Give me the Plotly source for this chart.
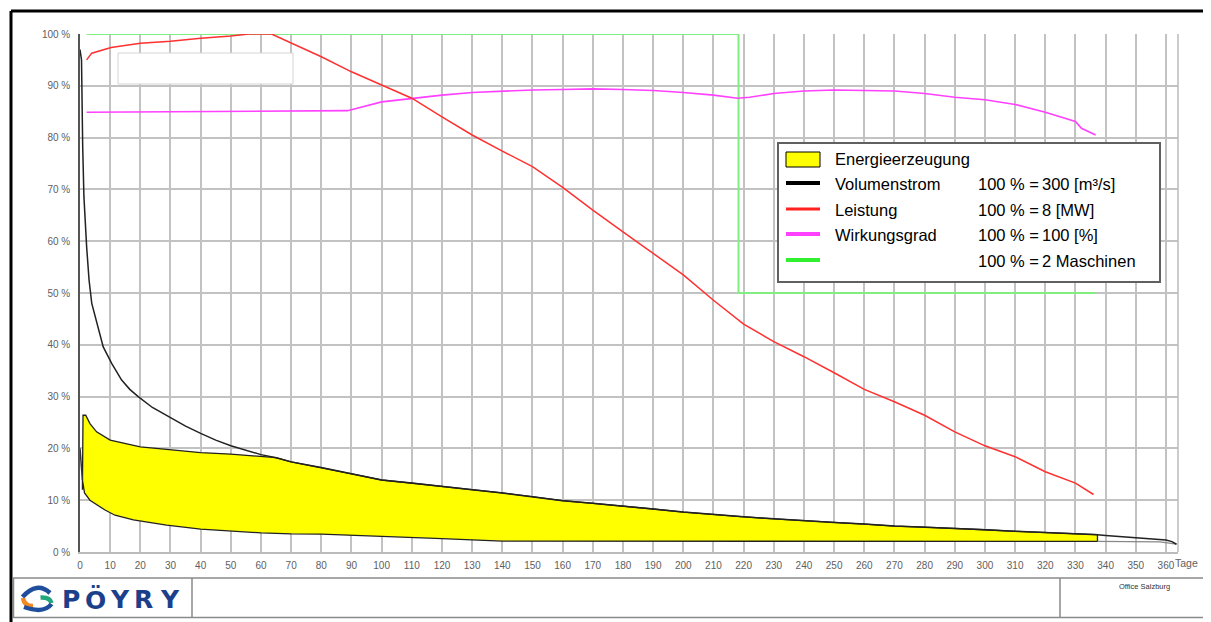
import plotly.graph_objects as go

# ---------------- data ----------------
# Volumenstrom (black), % of 300 m3/s
q_days = [0, 0.5, 0.9, 1.3, 2.2, 3, 3.9, 6.1, 7.7, 10.5, 13.8, 16.5, 19.3, 24, 30, 35, 40, 45, 50, 55, 60, 65, 70, 80, 90,
          100, 110, 120, 130, 140, 150, 160, 170, 180, 190, 200, 210, 220, 230, 240, 250, 260, 270, 280, 290,
          300, 310, 320, 330, 337.3, 340, 350, 355, 360, 362, 363.5]
q_vals = [97, 95, 78.2, 68.6, 58.9, 52.5, 48, 42.9, 39.6, 36.4, 33.2, 31.4, 30, 27.9, 26.0, 24.3, 22.9, 21.6, 20.5, 19.6,
          18.8, 18.2, 17.4, 16.3, 15.1,
          13.9, 13.3, 12.6, 12.0, 11.4, 10.7, 9.9, 9.4, 8.9, 8.3, 7.7, 7.2, 6.8, 6.4, 6.0, 5.7, 5.4, 5.0, 4.8, 4.6,
          4.3, 4.0, 3.8, 3.6, 3.35, 3.2, 2.8, 2.6, 2.3, 2.0, 1.5]

# Energieerzeugung: upper boundary of the yellow area
e_up_days = [0.8, 1.0, 1.9, 3.3, 5.5, 10, 20, 30, 40, 50, 60, 65, 70, 80, 90, 100, 110, 120, 130, 140, 150, 160,
             170, 180, 190, 200, 210, 220, 230, 240, 250, 260, 270, 280, 290, 300, 310, 320, 330, 337.3]
e_up_vals = [12.0, 26.4, 26.4, 24.8, 23.2, 21.6, 20.3, 19.7, 19.2, 18.9, 18.5, 18.2, 17.4, 16.3, 15.1, 13.9, 13.3, 12.6,
             12.0, 11.4, 10.7, 9.9, 9.4, 8.9, 8.3, 7.7, 7.2, 6.8, 6.4, 6.0, 5.7, 5.4, 5.0, 4.8, 4.6, 4.3, 4.0, 3.8, 3.6, 3.35]

# lower boundary of the yellow area
e_lo_days = [0, 0.4, 0.8, 1.5, 3.3, 5.5, 8.3, 11.6, 17.7, 28.7, 40, 60, 70, 80, 100, 120, 140, 150, 200, 250, 300,
             337.3, 350, 358, 363.5]
e_lo_vals = [20.0, 17.0, 13.9, 11.4, 10.0, 9.1, 8.1, 7.1, 6.2, 5.2, 4.4, 3.7, 3.5, 3.45, 3.0, 2.6, 2.1, 2.0, 2.0, 2.0, 2.05,
             2.05, 2.0, 1.95, 1.5]

# Leistung (red), % of 8 MW
p_days = [2.2, 3.9, 10.3, 20, 30, 40, 50, 56, 63.5, 70, 80, 90, 100, 110, 120, 130, 140, 150, 160, 170, 180, 190,
          200, 210, 220, 230, 240, 250, 260, 270, 280, 290, 300, 310, 320, 330, 336]
p_vals = [95.0, 96.3, 97.4, 98.2, 98.6, 99.2, 99.6, 100, 100, 98.3, 95.6, 92.7, 90.2, 87.6, 84.0, 80.5, 77.4, 74.4,
          70.4, 66.0, 61.8, 57.7, 53.5, 48.6, 44.0, 40.6, 37.7, 34.6, 31.4, 29.0, 26.4, 23.2, 20.5, 18.4, 15.5, 13.3, 11.1]

# Wirkungsgrad (magenta), %
w_days = [2.2, 60, 88.7, 100, 110, 120, 130, 140, 150, 160, 170, 180, 190, 200, 210, 218, 222, 230, 240, 250, 260,
          270, 280, 290, 300, 310, 320, 330, 332, 336.7]
w_vals = [84.9, 85.1, 85.2, 86.9, 87.6, 88.2, 88.7, 89.0, 89.2, 89.3, 89.4, 89.3, 89.1, 88.7, 88.2, 87.6, 87.8, 88.5,
          89.0, 89.2, 89.1, 89.0, 88.5, 87.8, 87.3, 86.4, 84.9, 83.1, 81.8, 80.5]

# Maschinen (green), % of 2 machines
g_days = [2.2, 218.3, 218.3, 336.5]
g_vals = [100, 100, 50, 50]

x_ticks = list(range(0, 361, 10))
y_ticks = list(range(0, 101, 10))

legend_names = ["Energieerzeugung", "Volumenstrom", "Leistung", "Wirkungsgrad", ""]
legend_refs = ["", "100 % =", "100 % =", "100 % =", "100 % ="]
legend_vals = ["", "300 [m³/s]", "8 [MW]", "100 [%]", "2 Maschinen"]

# ---------------- layout geometry (screen pixels; page body has an 8px margin) ----------------
OFF = 8
SW, SH = 1211, 622
L, R, T, B = 80, 1178, 34, 552
FW, FH = SW - OFF, SH - OFF


def px(x):
    return (x - L) / (R - L)


def py(y):
    return (B - y) / (B - T)


FONT = "Liberation Sans"

fig = go.Figure()

# yellow energy area (polygon built from the boundary lists)
lo_part = [(d, v) for d, v in zip(e_lo_days, e_lo_vals) if 0.8 <= d <= 337.3]
fill_x = e_up_days + [d for d, v in reversed(lo_part)]
fill_y = e_up_vals + [v for d, v in reversed(lo_part)]
fig.add_trace(go.Scatter(x=fill_x, y=fill_y, mode="lines", fill="toself", fillcolor="#ffff00",
                         line=dict(color="#222222", width=1.3), hoverinfo="skip", showlegend=False))

# lower line head and tail
head = [(d, v) for d, v in zip(e_lo_days, e_lo_vals) if d <= 0.8]
tail = [(d, v) for d, v in zip(e_lo_days, e_lo_vals) if d >= 337.3]
fig.add_trace(go.Scatter(x=[d for d, v in head], y=[v for d, v in head], mode="lines",
                         line=dict(color="#333333", width=1.5), showlegend=False))
fig.add_trace(go.Scatter(x=[d for d, v in tail], y=[v for d, v in tail], mode="lines",
                         line=dict(color="#888888", width=1.3), showlegend=False))

# Volumenstrom
fig.add_trace(go.Scatter(x=q_days, y=q_vals, mode="lines", name="Volumenstrom",
                         line=dict(color="#222222", width=1.5), showlegend=False))
# Maschinen
fig.add_trace(go.Scatter(x=g_days, y=g_vals, mode="lines", name="Maschinen",
                         line=dict(color="#80ee80", width=2), showlegend=False))
# Wirkungsgrad
fig.add_trace(go.Scatter(x=w_days, y=w_vals, mode="lines", name="Wirkungsgrad",
                         line=dict(color="#ff40ff", width=1.6), showlegend=False))
# Leistung
fig.add_trace(go.Scatter(x=p_days, y=p_vals, mode="lines", name="Leistung",
                         line=dict(color="#ff3030", width=1.5), showlegend=False))

shapes = []
annotations = []

# plot area right border
shapes.append(dict(type="line", xref="paper", yref="paper", x0=1, x1=1, y0=0, y1=1,
                   line=dict(color="#bbbbbb", width=1.5)))

# white blank box top-left
shapes.append(dict(type="rect", xref="paper", yref="paper", x0=px(118), x1=px(293), y0=py(84), y1=py(53),
                   fillcolor="white", line=dict(color="#d4d4d4", width=1), layer="above"))

# legend box
shapes.append(dict(type="rect", xref="paper", yref="paper", x0=px(778), x1=px(1160), y0=py(282), y1=py(143),
                   fillcolor="white", line=dict(color="#606060", width=2), layer="above"))
row_y = [159, 184, 210, 235, 261]
shapes.append(dict(type="rect", xref="paper", yref="paper", x0=px(786), x1=px(820), y0=py(167), y1=py(152),
                   fillcolor="#ffff00", line=dict(color="black", width=1), layer="above"))
sym = [(1, "#000000", 4), (2, "#ff2020", 3), (3, "#ff40ff", 4), (4, "#30f030", 4)]
for i, c, wdt in sym:
    yy = row_y[i] - 1
    shapes.append(dict(type="line", xref="paper", yref="paper", x0=px(786), x1=px(820), y0=py(yy), y1=py(yy),
                       line=dict(color=c, width=wdt), layer="above"))
for i in range(5):
    if legend_names[i]:
        annotations.append(dict(xref="paper", yref="paper", x=px(833), y=py(row_y[i]), text=legend_names[i],
                                showarrow=False, xanchor="left", yanchor="middle",
                                font=dict(family=FONT, size=16.5, color="black")))
    if legend_refs[i]:
        annotations.append(dict(xref="paper", yref="paper", x=px(976), y=py(row_y[i]), text=legend_refs[i],
                                showarrow=False, xanchor="left", yanchor="middle",
                                font=dict(family=FONT, size=16.5, color="black")))
        annotations.append(dict(xref="paper", yref="paper", x=px(1040), y=py(row_y[i]), text=legend_vals[i],
                                showarrow=False, xanchor="left", yanchor="middle",
                                font=dict(family=FONT, size=16.5, color="black")))

# "Tage" axis label
annotations.append(dict(xref="paper", yref="paper", x=px(1173), y=py(563), text="Tage", showarrow=False,
                        xanchor="left", yanchor="middle", font=dict(family=FONT, size=10.5, color="#606060")))

# outer frame (black, top and left)
shapes.append(dict(type="line", xref="paper", yref="paper", x0=px(11), x1=px(1211), y0=py(11), y1=py(11),
                   line=dict(color="black", width=3)))
shapes.append(dict(type="line", xref="paper", yref="paper", x0=px(11), x1=px(11), y0=py(11), y1=py(622),
                   line=dict(color="black", width=3)))

# footer box
fc = dict(color="#8a8a8a", width=1.5)
shapes.append(dict(type="line", xref="paper", yref="paper", x0=px(13), x1=px(1211), y0=py(578), y1=py(578), line=fc))
shapes.append(dict(type="line", xref="paper", yref="paper", x0=px(13), x1=px(1211), y0=py(617.5), y1=py(617.5), line=fc))
shapes.append(dict(type="line", xref="paper", yref="paper", x0=px(13.5), x1=px(13.5), y0=py(578), y1=py(617.5), line=fc))
shapes.append(dict(type="line", xref="paper", yref="paper", x0=px(192), x1=px(192), y0=py(578), y1=py(617.5), line=fc))
shapes.append(dict(type="line", xref="paper", yref="paper", x0=px(1060), x1=px(1060), y0=py(578), y1=py(617.5), line=fc))
annotations.append(dict(xref="paper", yref="paper", x=px(1144), y=py(586), text="Office Salzburg", showarrow=False,
                        xanchor="center", yanchor="middle", font=dict(family=FONT, size=7.5, color="#333333")))


# logo icon
def qpath(p0, c, p1):
    return "M {} {} Q {} {} {} {}".format(px(p0[0]), py(p0[1]), px(c[0]), py(c[1]), px(p1[0]), py(p1[1]))


logo = [((50, 593), (37, 581), (22.5, 597), "#1f4e9c", 4.5),
        ((23, 598), (24, 606), (33, 606), "#f08a24", 4.5),
        ((40.5, 597.5), (50, 597), (51.5, 603), "#22a77c", 4.5),
        ((51.5, 604), (44, 614), (24, 607), "#1f4e9c", 4.5)]
for p0, c, p1, col, wdt in logo:
    shapes.append(dict(type="path", xref="paper", yref="paper", path=qpath(p0, c, p1),
                       line=dict(color=col, width=wdt)))
for ch, cx in zip("PÖYRY", [71, 95.5, 120, 143.5, 169.5]):
    annotations.append(dict(xref="paper", yref="paper", x=px(cx), y=py(599.5), text="<b>" + ch + "</b>",
                            showarrow=False, xanchor="center", yanchor="middle",
                            font=dict(family="DejaVu Sans", size=25, color="#1c3f8c")))

fig.update_layout(
    width=FW, height=FH,
    margin=dict(l=L - OFF, r=SW - R, t=T - OFF, b=SH - B, pad=0),
    paper_bgcolor="white", plot_bgcolor="white",
    showlegend=False,
    shapes=shapes, annotations=annotations,
    xaxis=dict(range=[0, 364], tickvals=x_ticks, ticktext=[str(v) for v in x_ticks],
               showgrid=True, gridcolor="#c2c2c2", gridwidth=1.5, zeroline=False,
               showline=True, linecolor="#bbbbbb", linewidth=1.5, ticks="", ticklabelstandoff=3,
               tickfont=dict(family=FONT, size=10, color="#606060"), fixedrange=True),
    yaxis=dict(range=[0, 100], tickvals=y_ticks, ticktext=[f"{v} %" for v in y_ticks],
               showgrid=True, gridcolor="#c2c2c2", gridwidth=1.5, zeroline=False,
               showline=True, linecolor="#555555", linewidth=1.5, ticks="", ticklabelstandoff=6,
               tickfont=dict(family=FONT, size=10, color="#606060"), fixedrange=True),
)

fig.write_html("out.html")
